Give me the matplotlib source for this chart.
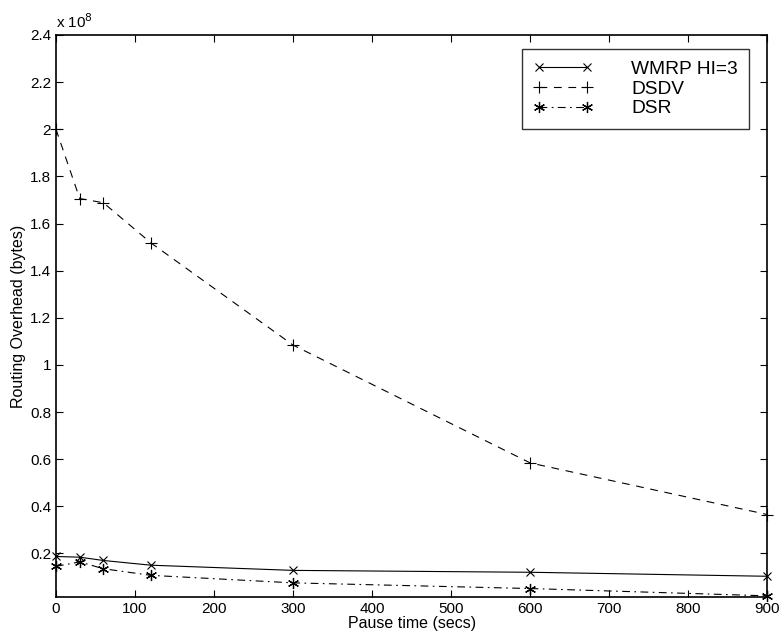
import matplotlib
matplotlib.use("Agg")
import matplotlib.pyplot as plt
from matplotlib.ticker import FuncFormatter

plt.rcParams['font.family'] = ['Liberation Sans', 'DejaVu Sans']

# pause time (secs)
pause = [0, 30, 60, 120, 300, 600, 900]

# routing overhead in units of 1e8 bytes
wmrp = [0.187, 0.184, 0.170, 0.150, 0.128, 0.120, 0.103]
dsdv = [2.00, 1.706, 1.688, 1.518, 1.084, 0.584, 0.365]
dsr = [0.145, 0.164, 0.135, 0.107, 0.075, 0.051, 0.020]

scale = 1e8

fig = plt.figure(figsize=(7.83, 6.36), dpi=100)
ax = fig.add_axes([0.0715, 0.0613, 0.9085, 0.8837])

ax.plot(pause, [v * scale for v in wmrp], color='k', linestyle='-', linewidth=0.8,
        marker='x', markersize=6, markeredgewidth=0.8, label='WMRP HI=3', clip_on=False)
ax.plot(pause, [v * scale for v in dsdv], color='k', linestyle=(0, (7, 6)), linewidth=0.8,
        marker='+', markersize=9, markeredgewidth=0.8, label='DSDV', clip_on=False)
ax.plot(pause, [v * scale for v in dsr], color='k', linestyle=(0, (7, 4, 1.5, 4)), linewidth=0.8,
        marker=(6, 2, 0), markersize=8, markeredgewidth=0.9, label='DSR', clip_on=False)

ax.set_xlim(0, 900)
ax.set_ylim(0.015e8, 2.4e8)
ax.set_xticks(range(0, 901, 100))
ax.set_yticks([v * 1e7 for v in range(2, 25, 2)])
ax.yaxis.set_major_formatter(FuncFormatter(lambda v, p: '%g' % round(v / scale, 2)))

ax.tick_params(direction='in', top=True, right=True, length=5, width=0.8, labelsize=11)
for s in ax.spines.values():
    s.set_linewidth(1.2)

ax.set_xlabel('Pause time (secs)', fontsize=11.5, labelpad=0)
ax.set_ylabel('Routing Overhead (bytes)', fontsize=11.5, labelpad=3)

fig.text(0.0715, 0.952, r'x 10$^{8}$', fontsize=11, ha='left', va='bottom')

leg = ax.legend(loc='upper right', bbox_to_anchor=(0.9747, 0.975), borderaxespad=0,
                numpoints=2, handlelength=3.1, fontsize=13.8, frameon=True, fancybox=False,
                borderpad=0.6, labelspacing=0.12, handletextpad=2.0)
leg.get_frame().set_edgecolor('k')
leg.get_frame().set_linewidth(1.0)

fig.savefig('out.png', dpi=100)
